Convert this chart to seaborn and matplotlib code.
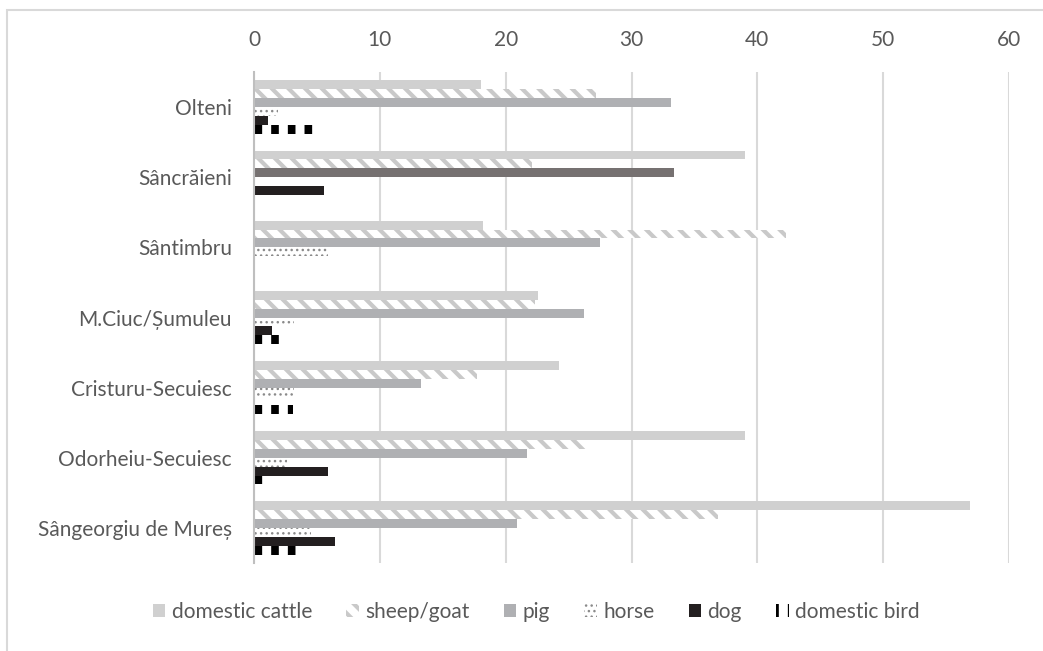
import numpy as np
import pandas as pd
import matplotlib
matplotlib.use("Agg")
import matplotlib.pyplot as plt
from matplotlib.patches import Rectangle
import seaborn as sns

# Share of animal remains per site (%)
regions = ["Olteni", "Sâncrăieni", "Sântimbru", "M.Ciuc/Șumuleu",
           "Cristuru-Secuiesc", "Odorheiu-Secuiesc", "Sângeorgiu de Mureș"]
taxa = ["domestic cattle", "sheep/goat", "pig", "horse", "dog", "domestic bird"]

cattle = [18.0, 39.0, 18.2, 22.6, 24.2, 39.0, 56.9]
sheep_goat = [27.2, 22.1, 42.3, 22.3, 17.7, 26.5, 36.9]
pig = [33.1, 33.4, 27.5, 26.2, 13.3, 21.7, 20.9]
horse = [1.9, 0.0, 5.9, 3.2, 3.2, 2.6, 4.5]
dog = [1.1, 5.6, 0.0, 1.45, 0.0, 5.9, 6.4]
bird = [5.2, 0.0, 0.0, 2.6, 3.1, 0.8, 3.4]

x_ticks = [0, 10, 20, 30, 40, 50, 60]

series = [cattle, sheep_goat, pig, horse, dog, bird]
df = pd.DataFrame({
    "region": np.tile(regions, len(taxa)),
    "taxon": np.repeat(taxa, len(regions)),
    "value": np.concatenate(series),
})

sns.set_style("white")
plt.rcParams["font.family"] = ["Lato", "DejaVu Sans"]
TEXT = "#595959"

fig = plt.figure(figsize=(10.43, 6.51), dpi=100)
ax = fig.add_axes([254 / 1043, 1 - 563 / 651, (1009 - 254) / 1043, (563 - 72) / 651])

base_colors = ["#D0D0D0", "white", "#AFB0B3", "white", "#231F20", "white"]
sns.barplot(data=df, y="region", x="value", hue="taxon", hue_order=taxa,
            order=regions, orient="h", palette=base_colors, saturation=1,
            width=0.76, gap=0, errorbar=None, legend=False, ax=ax)


def set_hatch_lw(patch, lw):
    if hasattr(patch, "set_hatch_linewidth"):
        patch.set_hatch_linewidth(lw)
    else:
        patch._hatch_linewidth = lw


# pattern fills for the textured series
styles = {
    1: dict(hatch="\\\\", edge="#C9C9C9", lw=3.0),
    3: dict(hatch="...", edge="#8A8A8A", lw=1.0),
    5: dict(hatch="|", edge="#000000", lw=5.5),
}


def apply_style(p, i):
    p.set_linewidth(0)
    if i in styles:
        s = styles[i]
        p.set_facecolor("white")
        p.set_edgecolor(s["edge"])
        p.set_hatch(s["hatch"])
        set_hatch_lw(p, s["lw"])


for i, cont in enumerate(ax.containers):
    for p in cont.patches:
        apply_style(p, i)

# the Sâncrăieni pig bar is drawn in a darker shade
ax.containers[2].patches[1].set_facecolor("#767171")

ax.set_xlim(0, 60)
ax.set_xticks(x_ticks)
ax.xaxis.tick_top()
ax.set_xlabel("")
ax.set_ylabel("")
ax.tick_params(axis="x", length=0, pad=16, labelsize=15, labelcolor=TEXT)
ax.tick_params(axis="y", length=0, pad=16, labelsize=15, labelcolor=TEXT)
ax.grid(axis="x", color="#D9D9D9", linewidth=1.5)
ax.set_axisbelow(True)
for side in ["top", "right", "bottom"]:
    ax.spines[side].set_visible(False)
ax.spines["left"].set_color("#BFBFBF")
ax.spines["left"].set_linewidth(1.5)

handles = [Rectangle((0, 0), 1, 1, facecolor=c) for c in base_colors]
leg = fig.legend(handles, taxa, loc="center", bbox_to_anchor=(0.514, 0.06),
                 ncol=6, frameon=False, fontsize=15, labelcolor=TEXT,
                 handlelength=0.6, handleheight=0.6, handletextpad=0.3,
                 columnspacing=1.65)
for i, h in enumerate(leg.legend_handles):
    apply_style(h, i)

# chart frame
fig.add_artist(Rectangle((7 / 1043, -0.2), 1.2, 1.2 - 10 / 651,
                         transform=fig.transFigure, fill=False,
                         edgecolor="#D9D9D9", linewidth=1.5))

fig.savefig("out.png", dpi=100, facecolor="white")
